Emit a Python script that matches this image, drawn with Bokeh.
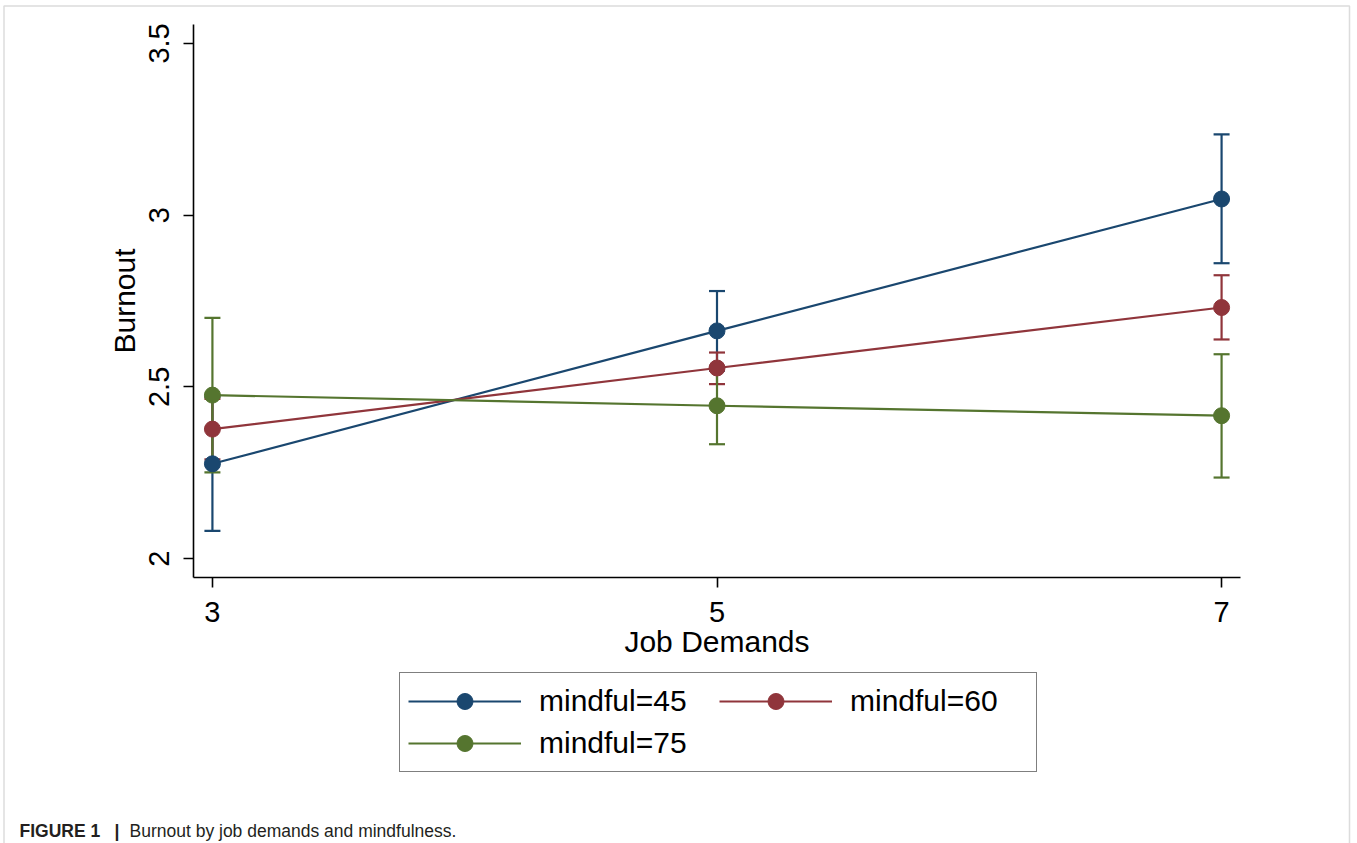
from bokeh.plotting import figure
from bokeh.models import (FixedTicker, Legend, LegendItem, Label, BoxAnnotation,
                          ColumnDataSource, LinearAxis, Range1d)
from bokeh.embed import file_html
from bokeh.resources import INLINE

# ---- data ----
job_demands = [3, 5, 7]
x_ticks = [3, 5, 7]
x_tick_labels = ["3", "5", "7"]
y_ticks = [2, 2.5, 3, 3.5]
y_tick_labels = ["2", "2.5", "3", "3.5"]

series_labels = ["mindful=45", "mindful=60", "mindful=75"]
burnout_45 = [2.276, 2.663, 3.047]
low_45 = [2.081, 2.547, 2.860]
high_45 = [2.471, 2.779, 3.235]

burnout_60 = [2.377, 2.555, 2.731]
low_60 = [2.289, 2.508, 2.638]
high_60 = [2.465, 2.600, 2.825]

burnout_75 = [2.476, 2.445, 2.416]
low_75 = [2.251, 2.333, 2.236]
high_75 = [2.701, 2.557, 2.595]

colors = ["#1a476f", "#90353b", "#55752f"]

# ---- layout constants ----
FONT = "Liberation Sans"
W, H = 1357, 843
AX_L, AX_T, AX_W, AX_H = 193, 24, 1047, 553      # axes box (pixels)
X0, X1 = 2.925, 7.075                            # axis extents (data)
Y0, Y1 = 1.945, 3.555

# map the whole canvas so the axes box lands at the right pixels
xs = AX_W / (X1 - X0)
ys = AX_H / (Y1 - Y0)
x_range = Range1d(X0 - AX_L / xs, X1 + (W - AX_L - AX_W) / xs)
y_range = Range1d(Y0 - (H - AX_T - AX_H) / ys, Y1 + AX_T / ys)

p = figure(width=W, height=H, x_range=x_range, y_range=y_range,
           output_backend="svg", toolbar_location=None,
           x_axis_location=None, y_axis_location=None,
           min_border=0, min_border_left=0, min_border_right=0,
           min_border_top=0, min_border_bottom=0)
p.background_fill_color = "white"
p.border_fill_color = "white"
p.outline_line_color = None
p.grid.visible = False

xaxis = LinearAxis(fixed_location=Y0, bounds=(X0, X1), axis_label="Job Demands")
yaxis = LinearAxis(fixed_location=X0, bounds=(Y0, Y1), axis_label="Burnout")
xaxis.ticker = FixedTicker(ticks=x_ticks)
xaxis.major_label_overrides = {t: l for t, l in zip(x_ticks, x_tick_labels)}
yaxis.ticker = FixedTicker(ticks=y_ticks)
yaxis.major_label_overrides = {t: l for t, l in zip(y_ticks, y_tick_labels)}
for ax in (xaxis, yaxis):
    ax.axis_line_color = "black"
    ax.axis_line_width = 1.6
    ax.major_tick_line_color = "black"
    ax.major_tick_line_width = 1.6
    ax.major_tick_in = 0
    ax.major_tick_out = 10
    ax.minor_tick_line_color = None
    ax.major_label_text_font = FONT
    ax.major_label_text_font_size = "29px"
    ax.major_label_text_color = "black"
    ax.axis_label_text_font = FONT
    ax.axis_label_text_font_size = "30px"
    ax.axis_label_text_font_style = "normal"
    ax.axis_label_text_color = "black"
xaxis.major_label_standoff = 14
xaxis.axis_label_standoff = 0
yaxis.major_label_orientation = "parallel"
yaxis.major_label_standoff = 14
yaxis.axis_label_standoff = 6
p.add_layout(xaxis, "below")
p.add_layout(yaxis, "left")

means = [burnout_45, burnout_60, burnout_75]
lows = [low_45, low_60, low_75]
highs = [high_45, high_60, high_75]

# error bars (drawn first)
for m, lo, hi, c in zip(means, lows, highs, colors):
    src = ColumnDataSource(dict(x=job_demands, lo=lo, hi=hi))
    p.segment(x0="x", y0="lo", x1="x", y1="hi", source=src, line_color=c, line_width=2.2)
    p.scatter(x="x", y="lo", source=src, marker="dash", size=16, line_color=c, line_width=2.2)
    p.scatter(x="x", y="hi", source=src, marker="dash", size=16, line_color=c, line_width=2.2)

items = []
for m, c, lab in zip(means, colors, series_labels):
    src = ColumnDataSource(dict(x=job_demands, y=m))
    ln = p.line(x="x", y="y", source=src, line_color=c, line_width=2.2)
    sc = p.scatter(x="x", y="y", source=src, marker="circle", size=16,
                   fill_color=c, line_color=c)
    items.append(LegendItem(label=lab, renderers=[ln, sc]))

legend = Legend(items=items, orientation="horizontal", ncols=2,
                location=(399, H - 772),
                glyph_width=113, glyph_height=40, label_height=40,
                label_width=178, label_standoff=18, spacing=2, padding=8,
                margin=0,
                label_text_font=FONT, label_text_font_size="30px",
                label_text_color="black",
                border_line_color="black", border_line_width=1.5,
                background_fill_color="white", background_fill_alpha=1.0)
p.add_layout(legend, "center")

# outer gray frame
p.add_layout(BoxAnnotation(left=3.5, right=1349, top=H - 5.5, bottom=-20,
                           left_units="screen", right_units="screen",
                           top_units="screen", bottom_units="screen",
                           fill_alpha=0, line_color="#8a8a8a", line_width=1.5))

# caption
base_y = H - 830
p.add_layout(Label(x=19, y=base_y, x_units="screen", y_units="screen",
                   text="FIGURE 1", text_font=FONT, text_font_size="17.5px",
                   text_font_style="bold", text_color="#231f20",
                   text_baseline="alphabetic"))
p.add_layout(Label(x=114, y=base_y, x_units="screen", y_units="screen",
                   text="|", text_font=FONT, text_font_size="17.5px",
                   text_font_style="bold", text_color="#231f20",
                   text_baseline="alphabetic"))
p.add_layout(Label(x=129, y=base_y, x_units="screen", y_units="screen",
                   text="Burnout by job demands and mindfulness.", text_font=FONT,
                   text_font_size="17.5px", text_color="#231f20",
                   text_baseline="alphabetic"))

open("out.html", "w").write(file_html(p, INLINE))
